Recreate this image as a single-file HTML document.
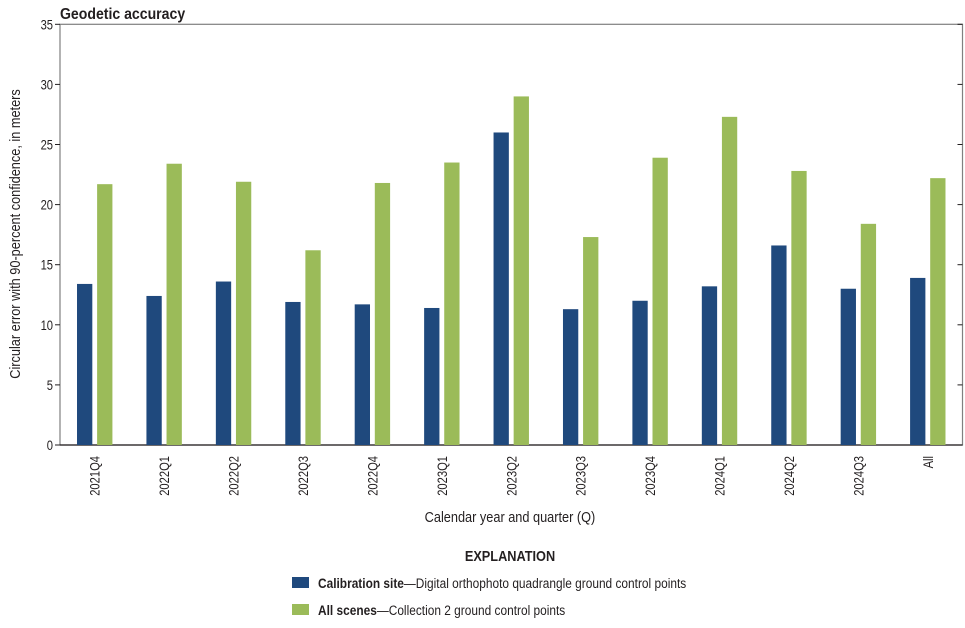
<!DOCTYPE html>
<html><head><meta charset="utf-8"><style>
body{margin:0;background:#fff;width:965px;height:623px;overflow:hidden}
svg text{font-family:"Liberation Sans",sans-serif;fill:#231f20}
</style></head><body>
<svg id="chart" width="965" height="623" viewBox="0 0 965 623" xmlns="http://www.w3.org/2000/svg">
<text x="60" y="19" font-size="16" font-weight="bold" transform="translate(60,0) scale(0.88,1) translate(-60,0)">Geodetic accuracy</text>
<g id="axes"></g>
<g id="bars"></g>
<text x="510" y="522" font-size="15" text-anchor="middle" transform="translate(510,0) scale(0.85,1) translate(-510,0)">Calendar year and quarter (Q)</text>
<text x="0" y="0" font-size="15" text-anchor="middle" transform="translate(20,234) rotate(-90) scale(0.85,1)">Circular error with 90-percent confidence, in meters</text>
<g>
<text x="510" y="561" font-size="15" font-weight="bold" text-anchor="middle" transform="translate(510,0) scale(0.85,1) translate(-510,0)">EXPLANATION</text>
<rect x="292" y="577" width="17" height="11" fill="#1f497d"/>
<text x="318" y="588" font-size="14" transform="translate(318,0) scale(0.85,1) translate(-318,0)"><tspan font-weight="bold">Calibration site</tspan>—Digital orthophoto quadrangle ground control points</text>
<rect x="292" y="604" width="17" height="11" fill="#9bbb59"/>
<text x="318" y="615" font-size="14" transform="translate(318,0) scale(0.85,1) translate(-318,0)"><tspan font-weight="bold">All scenes</tspan>—Collection 2 ground control points</text>
</g>
</svg>
<script>
const categories=["2021Q4","2022Q1","2022Q2","2022Q3","2022Q4","2023Q1","2023Q2","2023Q3","2023Q4","2024Q1","2024Q2","2024Q3","All"];
const calibration=[13.4,12.4,13.6,11.9,11.7,11.4,26.0,11.3,12.0,13.2,16.6,13.0,13.9];
const allScenes=[21.7,23.4,21.9,16.2,21.8,23.5,29.0,17.3,23.9,27.3,22.8,18.4,22.2];
const yTicks=[0,5,10,15,20,25,30,35];
const NS="http://www.w3.org/2000/svg";
const L=60,R=962.5,T=24.3,B=445,YMAX=35;
const y=v=>B-(v/YMAX)*(B-T);
const band=(R-L)/categories.length;
const xc=i=>L+band*(i+0.5);
function mk(tag,attrs,parent){const e=document.createElementNS(NS,tag);for(const k in attrs)e.setAttribute(k,attrs[k]);parent.appendChild(e);return e;}
const axes=document.getElementById('axes'),bars=document.getElementById('bars');
let e=mk('rect',{x:L,y:T,width:R-L,height:B-T,fill:'none',stroke:'#808080','stroke-width':1.2},axes);


e=mk('line',{x1:L,y1:B,x2:R,y2:B,stroke:'#231f20','stroke-width':1.3},axes);


yTicks.forEach(t=>{
 let tk=mk('line',{x1:L-5,x2:L,y1:y(t),y2:y(t),stroke:'#231f20','stroke-width':1},axes);
 
 
 let rk=mk('line',{x1:R-5,x2:R,y1:y(t),y2:y(t),stroke:'#231f20','stroke-width':1},axes);
 
 
 let lb=mk('text',{x:0,y:0,'font-size':14,'text-anchor':'end',transform:`translate(${L-7},${y(t)+5}) scale(0.8,1)`},axes);
 lb.textContent=t;
 
 
});
categories.forEach((c,i)=>{
 const cx=xc(i),w=15.3;
 let b1=mk('rect',{x:cx-17.7,y:y(calibration[i]),width:w,height:B-y(calibration[i]),fill:'#1f497d'},bars);
 
 
 let b2=mk('rect',{x:cx+2.4,y:y(allScenes[i]),width:w,height:B-y(allScenes[i]),fill:'#9bbb59'},bars);
 
 
 let lb=mk('text',{x:0,y:0,'font-size':14,'text-anchor':'end',transform:`translate(${cx+5},${456}) rotate(-90) scale(0.8,1)`},axes);
 lb.textContent=c;
 
 
});
</script>
</body></html>
